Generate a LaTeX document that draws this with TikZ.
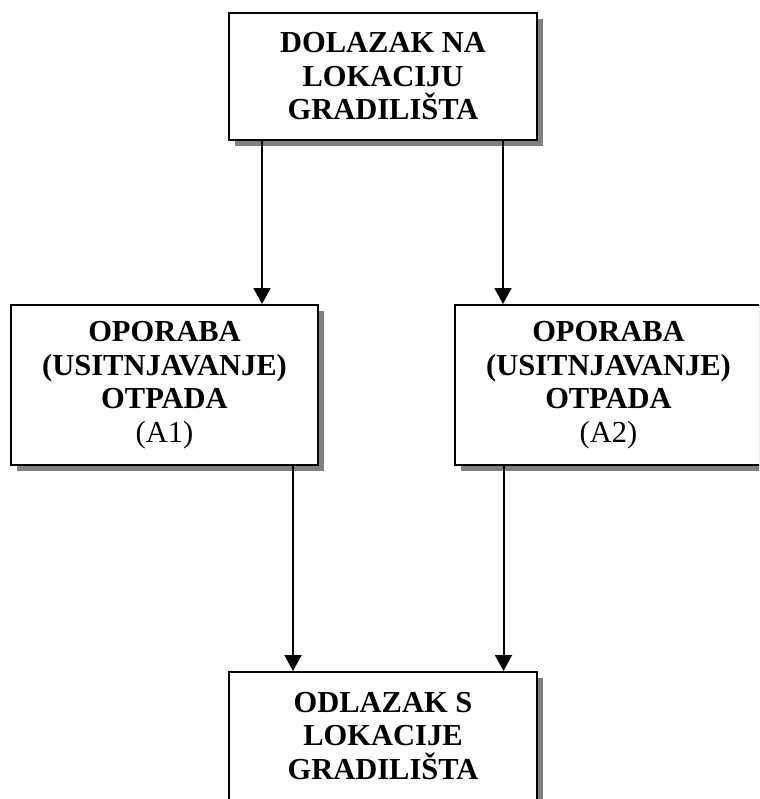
\documentclass[tikz,border=0pt]{standalone}
\usepackage{fontspec}
\setmainfont{Liberation Serif}
\usetikzlibrary{arrows.meta,shadows}
\begin{document}
\begin{tikzpicture}[x=1pt,y=-1pt,
  procbox/.style={draw=black, line width=2pt, fill=white, rectangle, align=center,
    inner sep=0pt, font=\fontsize{30.5}{33.5}\selectfont,
    drop shadow={shadow xshift=6pt, shadow yshift=-6pt, fill=black!50, opacity=1}},
  arr/.style={line width=2pt, -{Triangle[length=16pt,width=17pt]}}]
\useasboundingbox (0,0) rectangle (759,799);
\clip (0,0) rectangle (759,799);
\node[procbox, minimum width=308pt, minimum height=127pt] (top) at (383,76.5)
  {\textbf{DOLAZAK NA}\\\textbf{LOKACIJU}\\\textbf{GRADILIŠTA}};
\node[procbox, minimum width=307pt, minimum height=160pt] (a1) at (164.5,385)
  {\textbf{OPORABA}\\\textbf{(USITNJAVANJE)}\\\textbf{OTPADA}\\(A1)};
\node[procbox, minimum width=307pt, minimum height=160pt] (a2) at (608.5,385)
  {\textbf{OPORABA}\\\textbf{(USITNJAVANJE)}\\\textbf{OTPADA}\\(A2)};
\node[procbox, minimum width=308pt, minimum height=134pt, text depth=7pt] (bot) at (383,739)
  {\textbf{ODLAZAK S}\\\textbf{LOKACIJE}\\\textbf{GRADILIŠTA}};
\coordinate (c1) at (262,0);
\coordinate (c2) at (503,0);
\coordinate (c3) at (293,0);
\coordinate (c4) at (503.5,0);
\draw[arr] (top.south -| c1) -- (a1.north -| c1);
\draw[arr] (top.south -| c2) -- (a2.north -| c2);
\draw[arr] (a1.south -| c3) -- (bot.north -| c3);
\draw[arr] (a2.south -| c4) -- (bot.north -| c4);
\end{tikzpicture}
\end{document}
